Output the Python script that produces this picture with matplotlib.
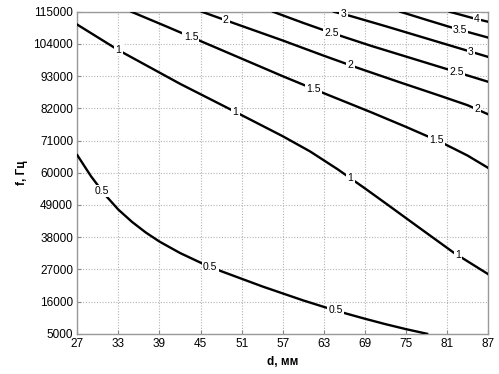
import numpy as np
import matplotlib
matplotlib.use("Agg")
import matplotlib.pyplot as plt

# contour lines: d (mm) and f (Hz) for each level
levels = [0.5, 1, 1.5, 2, 2.5, 3, 3.5, 4]

d_05 = [27, 29, 31, 33, 35, 37, 39, 42, 45, 48, 51, 54, 57, 60, 63, 66, 69, 72, 75, 78.1]
f_05 = [66000, 58800, 52600, 47400, 43200, 39600, 36500, 32600, 29300, 26400,
        23800, 21200, 18800, 16400, 14200, 12100, 10150, 8300, 6600, 5000]

d_10 = [27, 33, 42, 50, 57, 61, 65, 69, 72, 77, 82, 87]
f_10 = [110600, 101900, 90400, 80900, 72500, 67300, 61250, 54700, 49650, 41150, 32700, 25400]

d_15 = [34.9, 40, 45, 50, 57, 63, 70, 75, 80, 84, 87]
f_15 = [115000, 110000, 105000, 100000, 93000, 87200, 80600, 75700, 70600, 65900, 61700]

d_20 = [45.2, 50, 57, 63, 68, 74, 80, 84, 87]
f_20 = [115000, 111000, 105200, 100000, 95800, 91000, 86300, 83100, 80000]

d_25 = [55.6, 60, 64, 70, 76, 82, 87]
f_25 = [115000, 111200, 107900, 103300, 99000, 94700, 91100]

d_30 = [64.5, 67, 72, 77, 82, 87]
f_30 = [115000, 113500, 110100, 106600, 103100, 99600]

d_35 = [74.2, 78, 81.3, 84.5, 87]
f_35 = [115000, 112250, 109900, 107800, 106200]

d_40 = [81.4, 84.7, 87]
f_40 = [115000, 112900, 111600]

# where the inline labels sit along each line (d values)
label_d = {
    0.5: [30.6, 46.4, 64.7],
    1: [33.0, 50.1, 66.9, 82.6],
    1.5: [43.6, 61.5, 79.4],
    2: [48.7, 66.9, 85.4],
    2.5: [64.1, 82.4],
    3: [65.9, 84.5],
    3.5: [82.9],
    4: [85.4],
}

xticks = np.arange(27, 88, 6)
yticks = np.arange(5000, 115001, 11000)

lines = [(d_05, f_05), (d_10, f_10), (d_15, f_15), (d_20, f_20),
         (d_25, f_25), (d_30, f_30), (d_35, f_35), (d_40, f_40)]

plt.rcParams['font.family'] = ['Liberation Sans', 'DejaVu Sans']
fig = plt.figure(figsize=(4.99, 3.74), dpi=100)
ax = fig.add_axes([0.155, 0.1075, 0.823, 0.861])

for lev, (d, f) in zip(levels, lines):
    ax.plot(d, f, color='black', lw=1.7, solid_joinstyle='round', zorder=3)
    for xd in label_d[lev]:
        yf = np.interp(xd, d, f)
        ax.text(xd, yf, f"{lev:g}", fontsize=7.5, ha='center', va='center',
                zorder=4, bbox=dict(boxstyle='square,pad=0.12', fc='white', ec='none'))

ax.set_xlim(27, 87)
ax.set_ylim(5000, 115000)
ax.set_xticks(xticks)
ax.set_yticks(yticks)
ax.tick_params(direction='in', length=3, labelsize=8.5, colors='#888888',
               labelcolor='black', pad=3)
ax.grid(True, color='#b4b4b4', linestyle=(0, (1, 1.5)), linewidth=0.8)
for s in ax.spines.values():
    s.set_color('#999999')
    s.set_linewidth(1.0)

ax.set_xlabel('d, мм', fontsize=8.5, fontweight='bold', labelpad=4)
ax.set_ylabel('f, Гц', fontsize=8.5, fontweight='bold', labelpad=4)

fig.savefig('out.png', dpi=100)
